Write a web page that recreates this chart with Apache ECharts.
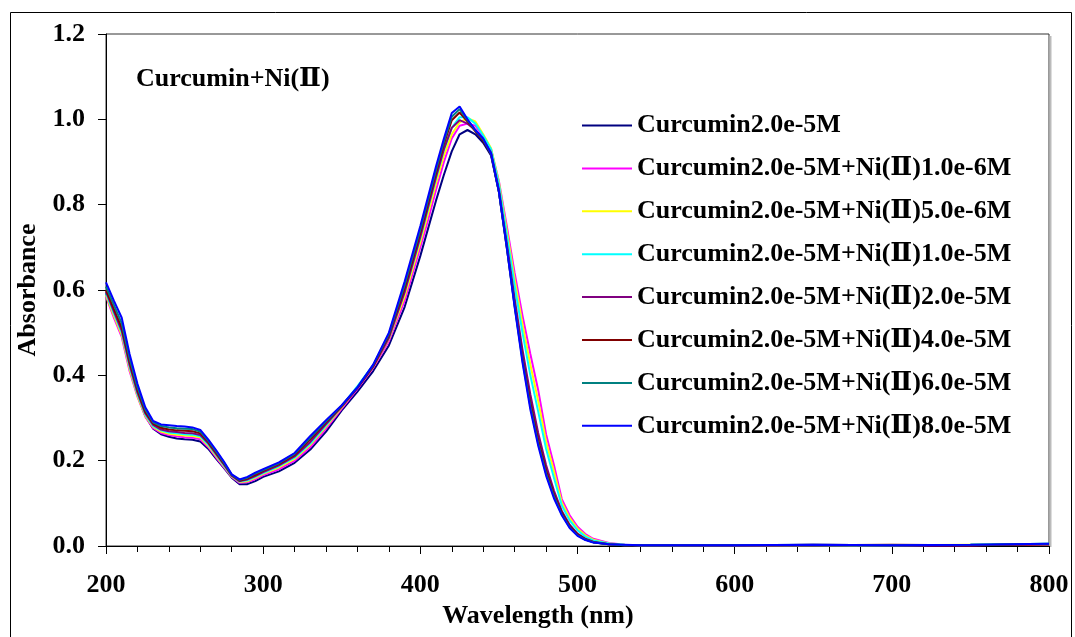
<!DOCTYPE html>
<html>
<head>
<meta charset="utf-8">
<script src="https://cdn.jsdelivr.net/npm/echarts@6/dist/echarts.min.js"></script>
<style>html,body{margin:0;padding:0;background:#fff}#c{width:1075px;height:637px}</style>
</head>
<body>
<div id="c"></div>
<script>
const wavelengths = [200,205,210,215,220,225,230,235,240,245,250,255,260,265,270,275,280,285,290,295,300,310,320,330,340,350,360,370,380,390,400,405,410,415,420,425,430,435,440,445,450,455,460,465,470,475,480,485,490,495,500,505,510,520,530,540,560,600,650,700,750,800];

const seriesNames = [
  "Curcumin2.0e-5M",
  "Curcumin2.0e-5M+Ni(Ⅱ)1.0e-6M",
  "Curcumin2.0e-5M+Ni(Ⅱ)5.0e-6M",
  "Curcumin2.0e-5M+Ni(Ⅱ)1.0e-5M",
  "Curcumin2.0e-5M+Ni(Ⅱ)2.0e-5M",
  "Curcumin2.0e-5M+Ni(Ⅱ)4.0e-5M",
  "Curcumin2.0e-5M+Ni(Ⅱ)6.0e-5M",
  "Curcumin2.0e-5M+Ni(Ⅱ)8.0e-5M"
];
const seriesColors = ["#000080","#FF00FF","#FFFF00","#00FFFF","#800080","#800000","#008080","#0000FF"];

const curcumin = [0.592,0.545,0.500,0.420,0.355,0.305,0.275,0.262,0.256,0.252,0.250,0.249,0.245,0.228,0.205,0.183,0.160,0.145,0.145,0.152,0.162,0.175,0.195,0.226,0.268,0.318,0.362,0.410,0.470,0.560,0.680,0.745,0.810,0.870,0.925,0.965,0.975,0.965,0.945,0.915,0.830,0.705,0.570,0.445,0.335,0.245,0.175,0.118,0.076,0.046,0.026,0.015,0.009,0.004,0.002,0.002,0.001,0.001,0.002,0.001,0.002,0.004];
const ni1e6 = [0.585,0.535,0.490,0.410,0.350,0.303,0.276,0.265,0.260,0.257,0.255,0.254,0.250,0.232,0.208,0.185,0.162,0.148,0.150,0.157,0.166,0.180,0.200,0.232,0.275,0.322,0.368,0.418,0.480,0.575,0.700,0.765,0.835,0.900,0.955,0.985,0.990,0.985,0.960,0.930,0.855,0.750,0.640,0.540,0.450,0.365,0.262,0.190,0.110,0.072,0.045,0.028,0.017,0.007,0.003,0.002,0.002,0.001,0.002,0.002,0.002,0.004];
const ni5e6 = [0.588,0.540,0.495,0.415,0.352,0.305,0.279,0.268,0.263,0.261,0.259,0.258,0.254,0.235,0.211,0.187,0.163,0.150,0.152,0.160,0.169,0.184,0.204,0.237,0.280,0.325,0.372,0.420,0.485,0.585,0.712,0.780,0.850,0.915,0.965,0.993,1.003,0.995,0.965,0.932,0.852,0.740,0.625,0.520,0.425,0.340,0.245,0.175,0.102,0.066,0.041,0.025,0.015,0.006,0.003,0.002,0.002,0.002,0.002,0.002,0.003,0.004];
const ni1e5 = [0.592,0.545,0.500,0.420,0.356,0.308,0.281,0.271,0.266,0.264,0.262,0.261,0.257,0.238,0.214,0.189,0.164,0.151,0.154,0.162,0.171,0.187,0.207,0.240,0.283,0.328,0.375,0.424,0.488,0.595,0.722,0.792,0.862,0.928,0.980,1.005,1.005,0.990,0.962,0.930,0.848,0.730,0.610,0.500,0.400,0.315,0.228,0.160,0.095,0.060,0.037,0.022,0.013,0.006,0.003,0.002,0.002,0.002,0.002,0.002,0.003,0.005];
const ni2e5 = [0.596,0.550,0.505,0.425,0.360,0.311,0.284,0.273,0.269,0.267,0.265,0.264,0.260,0.241,0.216,0.191,0.165,0.152,0.156,0.164,0.173,0.189,0.210,0.244,0.286,0.327,0.370,0.420,0.488,0.595,0.725,0.795,0.865,0.930,0.980,0.998,0.990,0.975,0.952,0.922,0.835,0.710,0.580,0.460,0.355,0.265,0.190,0.130,0.082,0.050,0.029,0.017,0.010,0.004,0.002,0.002,0.002,0.001,0.003,0.002,0.002,0.004];
const ni4e5 = [0.600,0.556,0.512,0.432,0.366,0.315,0.287,0.277,0.273,0.271,0.270,0.269,0.264,0.244,0.219,0.193,0.166,0.153,0.158,0.167,0.176,0.192,0.213,0.250,0.290,0.328,0.371,0.422,0.494,0.605,0.735,0.805,0.875,0.942,0.998,1.016,0.995,0.972,0.950,0.918,0.830,0.700,0.565,0.440,0.335,0.248,0.177,0.121,0.078,0.047,0.027,0.016,0.009,0.004,0.002,0.002,0.002,0.002,0.002,0.003,0.002,0.004];
const ni6e5 = [0.608,0.565,0.522,0.440,0.372,0.320,0.290,0.281,0.278,0.276,0.275,0.274,0.268,0.247,0.222,0.196,0.167,0.155,0.160,0.170,0.178,0.194,0.216,0.254,0.292,0.329,0.372,0.424,0.497,0.612,0.742,0.812,0.882,0.948,1.006,1.024,0.998,0.974,0.953,0.919,0.830,0.700,0.562,0.435,0.327,0.240,0.170,0.116,0.074,0.044,0.025,0.015,0.009,0.004,0.002,0.002,0.002,0.002,0.003,0.002,0.003,0.005];
const ni8e5 = [0.618,0.575,0.535,0.450,0.380,0.325,0.293,0.285,0.283,0.281,0.280,0.278,0.272,0.250,0.225,0.198,0.168,0.156,0.162,0.172,0.180,0.196,0.218,0.258,0.295,0.330,0.372,0.425,0.500,0.620,0.750,0.820,0.890,0.955,1.015,1.030,1.000,0.975,0.955,0.920,0.830,0.700,0.560,0.430,0.320,0.235,0.165,0.112,0.072,0.042,0.024,0.014,0.008,0.004,0.003,0.002,0.002,0.002,0.003,0.002,0.003,0.005];

const seriesValues = [curcumin, ni1e6, ni5e6, ni1e5, ni2e5, ni4e5, ni6e5, ni8e5];

const xTicks = [200,300,400,500,600,700,800];
const yTicks = [0,0.2,0.4,0.6,0.8,1.0,1.2];
const annotation = "Curcumin+Ni(Ⅱ)";
const xTitle = "Wavelength (nm)";
const yTitle = "Absorbance";

const FONT = "'Liberation Serif','DejaVu Serif','Times New Roman',serif";
const FS = 26;
const chart = echarts.init(document.getElementById('c'), null, {renderer:'canvas'});

const series = seriesNames.map((name, i) => ({
  name: name,
  type: 'line',
  data: wavelengths.map((w, j) => [w, seriesValues[i][j]]),
  showSymbol: false,
  symbol: 'none',
  lineStyle: { width: 2, color: seriesColors[i] },
  itemStyle: { color: seriesColors[i] },
  emphasis: { disabled: true },
  z: 2 + i
}));

chart.setOption({
  animation: false,
  backgroundColor: '#fff',
  title: {
    text: annotation,
    left: 131, top: 61,
    textStyle: { fontFamily: FONT, fontWeight: 'bold', fontSize: FS, color: '#000' }
  },
  legend: {
    orient: 'vertical',
    left: 582, top: 112.5,
    padding: 0,
    itemWidth: 50, itemHeight: 2,
    itemGap: 16.9,
    icon: 'rect',
    selectedMode: false,
    textStyle: { fontFamily: FONT, fontWeight: 'bold', fontSize: FS, color: '#000', lineHeight: 26 },
    data: seriesNames
  },
  grid: {
    left: 106, right: 26, top: 34, bottom: 91,
    show: true, borderColor: '#333', borderWidth: 1, backgroundColor: 'transparent'
  },
  xAxis: {
    type: 'value', min: 200, max: 800, interval: 100,
    name: xTitle, nameLocation: 'middle', nameGap: 48,
    nameTextStyle: { fontFamily: FONT, fontWeight: 'bold', fontSize: FS, color: '#000', padding: [0, 79, 0, 0] },
    axisLine: { onZero: false, lineStyle: { color: '#000', width: 1 } },
    axisTick: { show: true, inside: false, length: 8, lineStyle: { color: '#000' } },
    minorTick: { show: true, splitNumber: 5, length: 6, lineStyle: { color: '#000' } },
    splitLine: { show: false },
    axisLabel: { margin: 26, fontFamily: FONT, fontWeight: 'bold', fontSize: FS, color: '#000',
      formatter: v => xTicks.includes(v) ? String(v) : '' }
  },
  yAxis: {
    type: 'value', min: 0, max: 1.2, interval: 0.2,
    name: yTitle, nameLocation: 'middle', nameGap: 58, nameRotate: 90,
    nameTextStyle: { fontFamily: FONT, fontWeight: 'bold', fontSize: FS, color: '#000' },
    axisLine: { show: true, onZero: false, lineStyle: { color: '#000', width: 1 } },
    axisTick: { show: true, inside: false, length: 8, lineStyle: { color: '#000' } },
    splitLine: { show: false },
    axisLabel: { margin: 21, fontFamily: FONT, fontWeight: 'bold', fontSize: FS, color: '#000',
      formatter: v => { const t = yTicks.find(y => Math.abs(y - v) < 1e-9); return t === undefined ? '' : t.toFixed(1); } }
  },
  graphic: [
    { type: 'rect', shape: { x: 10.5, y: 12.5, width: 1061, height: 700 }, style: { fill: 'none', stroke: '#000', lineWidth: 1 }, silent: true, z: 0 },
    { type: 'line', shape: { x1: 1050.5, y1: 36, x2: 1050.5, y2: 547 }, style: { stroke: '#bbb', lineWidth: 2 }, silent: true, z: 0 }
  ],
  series: series
});
</script>
</body>
</html>
